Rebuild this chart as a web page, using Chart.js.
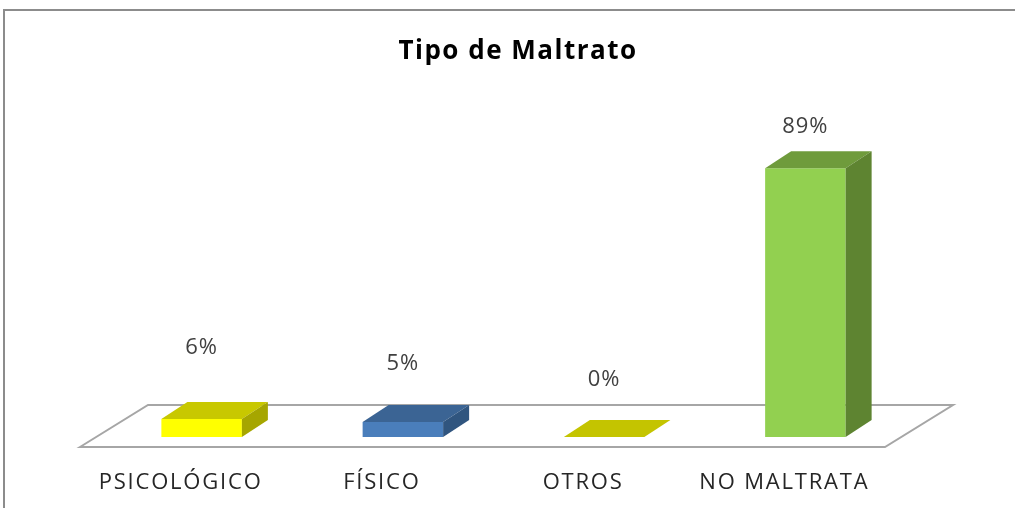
<!DOCTYPE html>
<html>
<head>
<meta charset="utf-8">
<script src="https://cdn.jsdelivr.net/npm/chart.js@4/dist/chart.umd.min.js"></script>
<style>
html,body{margin:0;padding:0;background:#fff;overflow:hidden;}
#wrap{width:1015px;height:508px;position:relative;}
</style>
</head>
<body>
<div id="wrap"><canvas id="c" width="1015" height="508"></canvas></div>
<script>
const categories = ["PSICOLÓGICO", "FÍSICO", "OTROS", "NO MALTRATA"];
const values = [6, 5, 0, 89];
const valueLabels = ["6%", "5%", "0%", "89%"];
const frontColors = ["#ffff00", "#4a7ebb", "#c4c400", "#92d050"];
const topColors = ["#c8c800", "#3b6494", "#c4c400", "#6f9b3c"];
const sideColors = ["#a6a600", "#30557f", "#a6a600", "#5e8431"];

const DX = 26, DY = -17;

const frame = {
  id: 'frame',
  beforeDraw(chart) {
    const ctx = chart.ctx;
    ctx.save();
    ctx.fillStyle = '#fff';
    ctx.fillRect(0, 0, chart.width, chart.height);
    ctx.strokeStyle = '#8c8c8c';
    ctx.lineWidth = 2;
    ctx.beginPath();
    ctx.moveTo(4, 508);
    ctx.lineTo(4, 10);
    ctx.lineTo(1015, 10);
    ctx.stroke();
    ctx.fillStyle = '#000';
    ctx.font = 'bold 26px "Open Sans", sans-serif';
    ctx.letterSpacing = '1.5px';
    ctx.textAlign = 'center';
    ctx.textBaseline = 'alphabetic';
    ctx.fillText('Tipo de Maltrato', 518, 59);
    ctx.restore();
    // spacing used by the category tick labels
    ctx.letterSpacing = '1.8px';
  },
  afterDraw(chart) {
    chart.ctx.letterSpacing = '0px';
  }
};

const floor = {
  id: 'floor',
  beforeDatasetsDraw(chart) {
    const ctx = chart.ctx, a = chart.chartArea;
    const fy = a.bottom + 10, bx = 68, by = -42, sh = -21;
    const l = a.left + sh, r = a.right + sh;
    ctx.save();
    ctx.strokeStyle = '#a6a6a6';
    ctx.lineWidth = 2;
    ctx.fillStyle = '#fff';
    ctx.beginPath();
    ctx.moveTo(l, fy);
    ctx.lineTo(l + bx, fy + by);
    ctx.lineTo(r + bx, fy + by);
    ctx.lineTo(r, fy);
    ctx.closePath();
    ctx.fill();
    ctx.stroke();
    ctx.restore();
  }
};

const bars3d = {
  id: 'bars3d',
  afterDatasetsDraw(chart, args, opts) {
    const ctx = chart.ctx;
    const meta = chart.getDatasetMeta(0);
    ctx.save();
    meta.data.forEach((bar, i) => {
      const p = bar.getProps(['x', 'y', 'base', 'width'], true);
      const x0 = p.x - p.width / 2, x1 = p.x + p.width / 2;
      const yt = p.y, yb = p.base;
      ctx.fillStyle = topColors[i];
      ctx.beginPath();
      ctx.moveTo(x0, yt);
      ctx.lineTo(x0 + DX, yt + DY);
      ctx.lineTo(x1 + DX, yt + DY);
      ctx.lineTo(x1, yt);
      ctx.closePath();
      ctx.fill();
      if (yb - yt > 0.5) {
        ctx.fillStyle = sideColors[i];
        ctx.beginPath();
        ctx.moveTo(x1, yt);
        ctx.lineTo(x1 + DX, yt + DY);
        ctx.lineTo(x1 + DX, yb + DY);
        ctx.lineTo(x1, yb);
        ctx.closePath();
        ctx.fill();
      }
      ctx.fillStyle = '#404040';
      ctx.font = '22px "Open Sans", sans-serif';
      ctx.letterSpacing = '1px';
      ctx.textAlign = 'center';
      ctx.textBaseline = 'middle';
      ctx.fillText(valueLabels[i], p.x, yt + DY - opts.offsets[i]);
    });
    ctx.restore();
  }
};

new Chart(document.getElementById('c'), {
  type: 'bar',
  data: {
    labels: categories,
    datasets: [{
      data: values,
      backgroundColor: frontColors,
      borderWidth: 0,
      barPercentage: 0.4,
      categoryPercentage: 1.0
    }]
  },
  options: {
    responsive: false,
    animation: false,
    events: [],
    layout: { padding: { top: 135, left: 101, right: 109, bottom: -13.4 } },
    plugins: {
      legend: { display: false },
      title: { display: false },
      tooltip: { enabled: false },
      bars3d: { offsets: [54, 41, 40, 24] }
    },
    scales: {
      x: {
        grid: { display: false },
        border: { display: false },
        ticks: {
          color: '#262626',
          font: { family: '"Open Sans", sans-serif', size: 22, lineHeight: 1.2 },
          padding: 25,
          labelOffset: -21,
          maxRotation: 0,
          autoSkip: false
        }
      },
      y: {
        display: false,
        min: 0,
        max: 100
      }
    }
  },
  plugins: [frame, floor, bars3d]
});
</script>
</body>
</html>
